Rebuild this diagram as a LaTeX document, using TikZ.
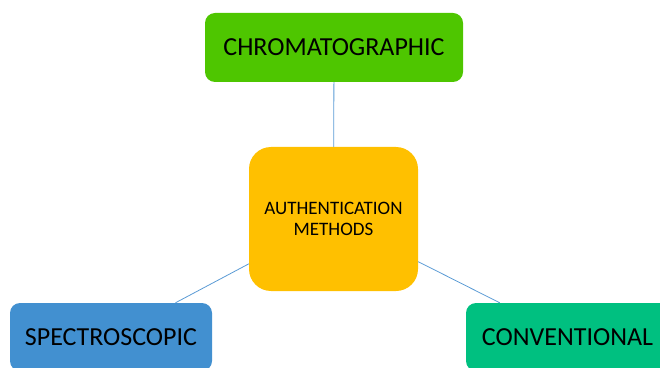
\documentclass[tikz,border=0pt]{standalone}
\usepackage{fontspec}
\setmainfont{Carlito}
\definecolor{chromagreen}{RGB}{78,198,0}
\definecolor{authgold}{RGB}{255,192,0}
\definecolor{specblue}{RGB}{66,144,208}
\definecolor{convgreen}{RGB}{0,192,128}
\definecolor{linkblue}{RGB}{91,155,213}

\begin{document}
\begin{tikzpicture}[x=1pt,y=1pt,
  box/.style={rounded corners=10pt, inner sep=0pt, minimum height=69pt,
    font=\fontsize{26}{31}\selectfont},
  link/.style={draw=linkblue, line width=0.8pt}]
\useasboundingbox (0,0) rectangle (660,367);
\clip (0,0) rectangle (660,367);
\node[box, fill=chromagreen, minimum width=258pt] (chroma) at (334,319.5) {CHROMATOGRAPHIC};
\node[box, fill=authgold, rounded corners=22pt, minimum width=169pt, minimum height=144pt,
  align=center, font=\fontsize{19}{21}\selectfont] (auth) at (333.5,148) {AUTHENTICATION\\METHODS};
\node[box, fill=specblue, minimum width=202pt, minimum height=68pt] (spec) at (111,30) {SPECTROSCOPIC};
\node[box, fill=convgreen, minimum width=203pt, minimum height=68pt] (conv) at (567.5,30) {CONVENTIONAL};

\draw[link] (chroma) -- (auth);
\draw[link] (auth) -- (spec);
\draw[link] (auth) -- (conv);

\end{tikzpicture}
\end{document}
